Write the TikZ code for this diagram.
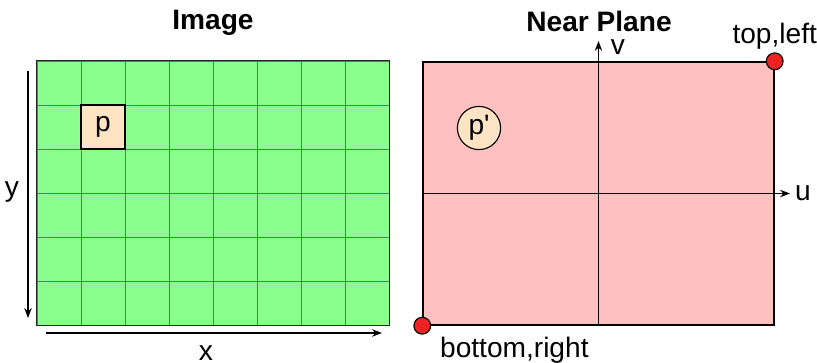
\documentclass[tikz,border=0pt]{standalone}
\usepackage{fontspec}
\setmainfont{Liberation Sans}
\usetikzlibrary{arrows.meta, positioning}

\definecolor{pixgreen}{HTML}{8AFF8E}
\definecolor{gridgreen}{HTML}{4A8555}
\definecolor{peach}{HTML}{FFE4C4}
\definecolor{planepink}{HTML}{FFC0C0}
\definecolor{dotred}{HTML}{EE2222}

\begin{document}
\begin{tikzpicture}[
    cell/.style={draw=gridgreen, fill=pixgreen, minimum size=1.1cm,
                 inner sep=0pt, line width=0.7pt},
    lbl/.style={font=\fontsize{20}{23}\selectfont, inner sep=0pt},
    ttl/.style={font=\fontsize{20}{23}\selectfont\bfseries, inner sep=0pt,
                anchor=base},
    corner/.style={circle, draw, fill=dotred, minimum size=0.42cm,
                   inner sep=0pt, line width=0.8pt},
    axis/.style={->, line width=0.9pt},
    >=Stealth
  ]
  \useasboundingbox (0,0) rectangle (20.425,9.05);

  % image pixels
  \node[ttl] (imgttl) at (5.325,8.325) {Image};
  \foreach \i in {0,...,7} {
    \foreach \j in {0,...,5} {
      \node[cell] (c\i\j) at (1.475+\i*1.1, 6.975-\j*1.1) {};
    }
  }
  \draw[line width=1.2pt, black!85] (c00.north west) rectangle (c75.south east);
  \node[cell, lbl, draw=black, fill=peach, minimum size=1.1cm,
        line width=1pt] (p) at (c11) {p};

  \coordinate (ytop) at (0.7,7.275);
  \coordinate (ybot) at (0.7,1.1);
  \draw[axis] (ytop) -- (ybot);
  \node[lbl] (ylbl) at (0.3,4.25) {y};

  \coordinate (xleft) at (1.15,0.725);
  \coordinate (xright) at (9.55,0.725);
  \draw[axis] (xleft) -- (xright);
  \node[lbl, anchor=base] (xlbl) at (5.15,0.05) {x};

  % near plane
  \node[ttl] (nearttl) at (14.975,8.27) {Near Plane};
  \node[draw, fill=planepink, line width=1pt, minimum width=8.775cm,
        minimum height=6.575cm] (plane) at (14.9625,4.2125) {};

  \coordinate (vtip) at (14.9625,8.025);
  \coordinate (utip) at (19.75,4.2125);
  \draw[axis] (plane.south) -- (vtip);
  \draw[axis] (plane.west) -- (utip);
  \node[lbl, right=0.12cm of utip] (ulbl) {u};
  \node[lbl, anchor=base] (vlbl) at (15.45,7.7) {v};

  \node[lbl, circle, draw, fill=peach, minimum size=1.08cm,
        line width=0.8pt] (pp) at (11.975,5.85) {p\textquotesingle};

  \node[corner] (tl) at (plane.north east) {};
  \node[corner] (br) at (plane.south west) {};
  \node[lbl, above=0.06cm of tl] (tllbl) {top,left};
  \node[lbl, below right=0.13cm and 0.28cm of br] (brlbl) {bottom,right};
\end{tikzpicture}
\end{document}
